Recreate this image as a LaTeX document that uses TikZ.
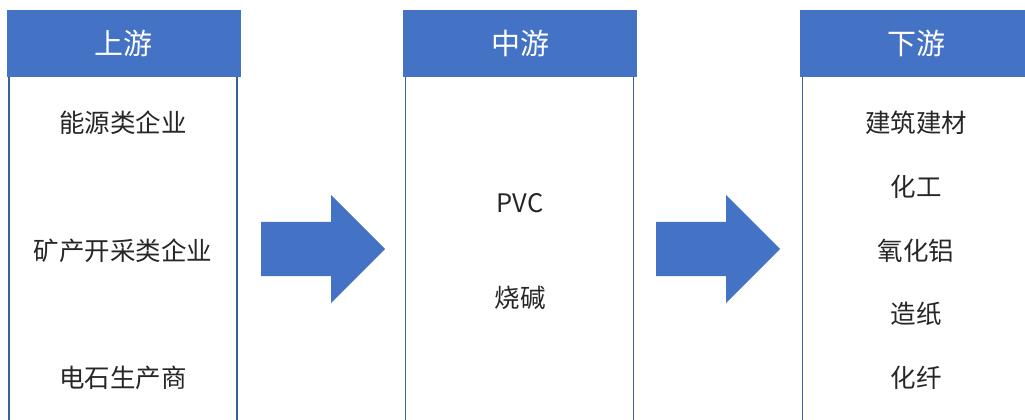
\documentclass[tikz,border=0pt]{standalone}
\usepackage{fontspec}
\setmainfont{Noto Sans CJK SC}
\usetikzlibrary{shapes.arrows}
\definecolor{hdblue}{HTML}{4472C4}
\definecolor{bdblue}{HTML}{3B5E9E}

\begin{document}
\begin{tikzpicture}[x=1pt,y=-1pt,
		head/.style={fill=hdblue,draw=hdblue,minimum width=233pt,minimum height=66pt,inner sep=0pt,text=white,font=\fontsize{29}{31}\selectfont},
		body/.style={draw=bdblue,line width=1.2pt,minimum width=228pt,minimum height=380pt,anchor=north},
		item/.style={font=\fontsize{25.5}{28}\selectfont,text=black!85},
		flow/.style={single arrow,fill=hdblue,minimum height=124pt,inner xsep=0pt,inner ysep=27pt,single arrow head extend=27pt,anchor=tail}]
			\useasboundingbox (0,0) rectangle (1025,420);
			\clip (0,0) rectangle (1025,420);

			% columns
			\node[body] (up) at (123,76) {};
			\node[body] (mid) at (519.5,76) {};
			\node[body] (down) at (916.5,76) {};
			\node[head] (uph) at (123.5,43) {上游};
			\node[head] (midh) at (520,43) {中游};
			\node[head] (downh) at (916.5,43) {下游};

			% items
			\foreach \t [count=\i] in {能源类企业,矿产开采类企业,电石生产商} {
				\node[item] (up\i) at (123,123+127.5*\i-127.5) {\t};
			};
			\node[item] (mid1) at (520,203) {PVC};
			\node[item] (mid2) at (520,298) {烧碱};
			\foreach \t [count=\i] in {建筑建材,化工,氧化铝,造纸,化纤} {
				\node[item] (down\i) at (916,123+63.75*\i-63.75) {\t};
			};

			% arrows
			\node[flow] (a1) at (261,249) {};
			\node[flow] (a2) at (656,249) {};
		\end{tikzpicture}
\end{document}
